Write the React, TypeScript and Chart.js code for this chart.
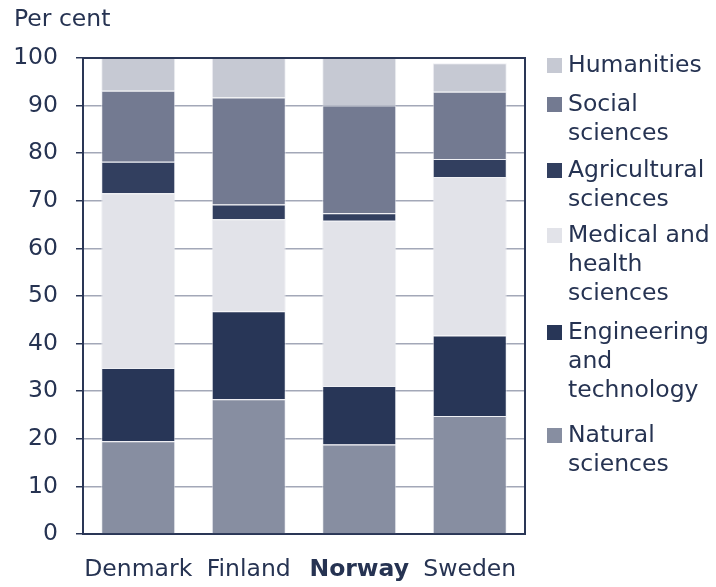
import React, { useEffect, useRef } from "react";
import { Chart, registerables } from "chart.js";

Chart.register(...registerables);

const categories = ["Denmark", "Finland", "Norway", "Sweden"];
const natural = [19.5, 28.3, 18.8, 24.8];
const engineering = [15.4, 18.5, 12.3, 16.9];
const medical = [36.7, 19.3, 34.7, 33.3];
const agricultural = [6.6, 3.1, 1.6, 3.8];
const social = [14.9, 22.5, 22.6, 14.1];
const humanities = [6.9, 8.3, 10.0, 6.0];

const seriesNames = [
  ["Natural", "sciences"],
  ["Engineering", "and", "technology"],
  ["Medical and", "health", "sciences"],
  ["Agricultural", "sciences"],
  ["Social", "sciences"],
  ["Humanities"],
];
const seriesColors = ["#878ea1", "#283657", "#e2e3e9", "#323f5f", "#737a91", "#c6c9d3"];
const seriesValues = [natural, engineering, medical, agricultural, social, humanities];

const TEXT = "#263352";
const NAVY = "#2a3656";
const FONT = "'DejaVu Sans', Verdana, sans-serif";
const FS = 23.5;

const decorPlugin = {
  id: "decor",
  afterDatasetsDraw(chart: any) {
    const { ctx, chartArea } = chart;
    ctx.save();
    ctx.strokeStyle = NAVY;
    ctx.lineWidth = 2;
    ctx.beginPath();
    ctx.moveTo(chartArea.left, chartArea.top);
    ctx.lineTo(chartArea.right, chartArea.top);
    ctx.lineTo(chartArea.right, chartArea.bottom);
    ctx.stroke();
    ctx.restore();
  },
  afterDraw(chart: any) {
    const { ctx } = chart;
    ctx.save();
    ctx.fillStyle = TEXT;
    ctx.font = `${FS}px ${FONT}`;
    ctx.textBaseline = "middle";
    ctx.textAlign = "left";
    ctx.fillText("Per cent", 14, 20);
    // legend layout: first-line centre of each entry, top to bottom
    const itemTops = [66, 105, 171, 236, 333, 436];
    const lineH = 29;
    for (let j = 0; j < seriesNames.length; j++) {
      const i = seriesNames.length - 1 - j;
      const y = itemTops[j];
      const lines = seriesNames[i];
      ctx.fillStyle = seriesColors[i];
      ctx.fillRect(547, y - 8, 15, 15);
      ctx.fillStyle = TEXT;
      lines.forEach((ln, k) => ctx.fillText(ln, 568, y + k * lineH));
    }
    ctx.restore();
  },
};

export default function App() {
  const ref = useRef<HTMLCanvasElement>(null);
  useEffect(() => {
    if (!ref.current) return;
    const chart = new Chart(ref.current, {
      type: "bar",
      data: {
        labels: categories,
        datasets: seriesValues.map((vals, i) => ({
          label: seriesNames[i].join(" "),
          data: vals,
          backgroundColor: seriesColors[i],
          borderColor: "rgba(232,234,240,0.7)",
          borderWidth: 1,
          barPercentage: 0.67,
          categoryPercentage: 1,
        })),
      },
      options: {
        animation: false,
        responsive: false,
        layout: { padding: { left: 0, top: 58, right: 191, bottom: 0 } },
        plugins: { legend: { display: false }, tooltip: { enabled: false } },
        scales: {
          x: {
            stacked: true,
            grid: { drawOnChartArea: false, drawTicks: false },
            border: { color: NAVY, width: 2 },
            ticks: {
              color: TEXT,
              padding: 22,
              autoSkip: false,
              maxRotation: 0,
              minRotation: 0,
              font: (c: any) => ({
                family: FONT,
                size: FS,
                weight: c.index === 2 ? "bold" : "normal",
              }),
            },
            afterFit: (s: any) => {
              s.height = 53;
            },
          },
          y: {
            stacked: true,
            min: 0,
            max: 100,
            ticks: {
              stepSize: 10,
              color: TEXT,
              padding: 18,
              font: { family: FONT, size: FS },
            },
            grid: {
              color: "#a3a8b8",
              lineWidth: 1.5,
              tickColor: NAVY,
              tickLength: 7,
            },
            border: { color: NAVY, width: 2 },
            afterFit: (s: any) => {
              s.width = 83;
            },
          },
        },
      },
      plugins: [decorPlugin],
    });
    return () => chart.destroy();
  }, []);
  return (
    <div style={{ position: "absolute", left: 0, top: 0 }}>
      <canvas ref={ref} width={716} height={587} />
    </div>
  );
}
